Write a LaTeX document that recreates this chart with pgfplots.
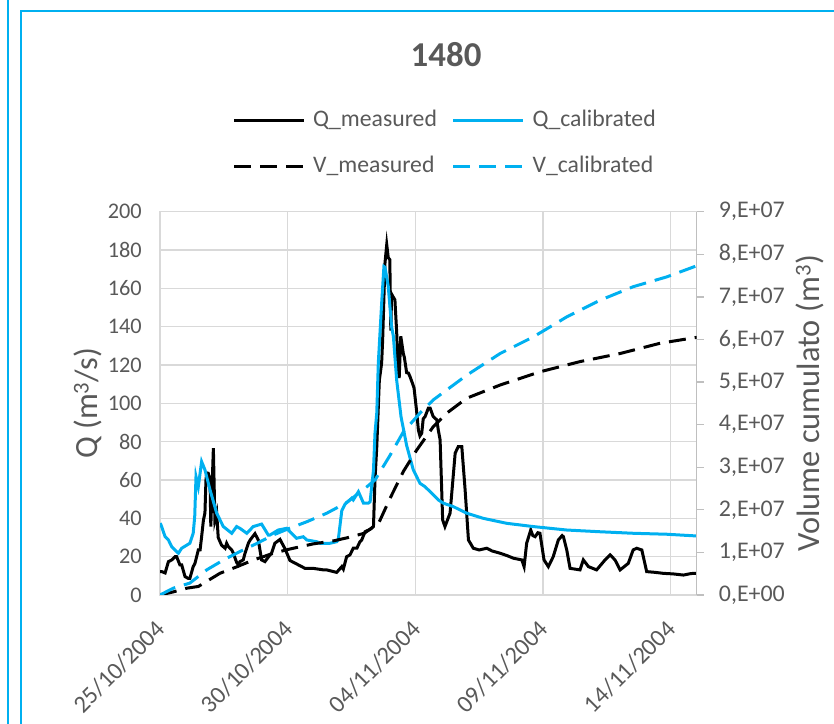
\documentclass[border=0pt]{standalone}
\usepackage{pgfplots}
\pgfplotsset{compat=1.18}
\usepackage{fontspec}
\setmainfont{Carlito}
\definecolor{cblue}{HTML}{00B0F0}
\definecolor{tgray}{HTML}{595959}
\definecolor{ggray}{HTML}{D9D9D9}
\definecolor{agray}{HTML}{BFBFBF}

\pgfplotstableread{
x y
0 12.2
0.07 12.2
0.2 11.5
0.33 17.4
0.46 18.3
0.59 20
0.65 20
0.78 15.7
0.85 15.7
0.98 9.6
1.1 8.7
1.17 8.7
1.3 14.8
1.37 16.5
1.5 23.5
1.57 23.5
1.63 30.4
1.7 39
1.76 42.8
1.8 60
1.83 63.7
1.89 63.5
1.96 60
1.99 35.7
2.09 76.6
2.15 39
2.22 42.8
2.28 30
2.41 26
2.55 24.4
2.61 27
2.68 25.2
2.81 23.5
2.87 21.9
3.0 17
3.07 15.7
3.13 17.4
3.26 18.3
3.33 21.8
3.46 27
3.53 28.7
3.72 32
3.85 28.7
3.98 18.3
4.11 17.4
4.31 21
4.37 21.8
4.5 27
4.7 29
4.9 24
5.09 18
5.42 15.7
5.68 13.9
6.0 13.9
6.4 13.1
6.53 13.1
6.92 11.8
7.12 14.8
7.18 13.5
7.31 20
7.44 20.9
7.57 24.4
7.71 24.4
7.83 27.8
7.9 28.7
8.03 33
8.23 34.3
8.36 35.7
8.42 60
8.49 77.4
8.59 112
8.68 121
8.72 133
8.81 173
8.88 182.8
8.94 176
9.0 175
9.04 138
9.07 157
9.12 155.8
9.2 154
9.27 137
9.33 114
9.37 114
9.43 135
9.53 126
9.57 124
9.66 116
9.73 115.8
9.79 114
9.9 110
9.95 108
10.05 96
10.12 86
10.18 83
10.25 84.4
10.31 92
10.38 93
10.51 97.5
10.58 97.5
10.7 93.1
10.84 91.4
10.9 86
10.97 81
11.07 39.2
11.16 35.7
11.36 42.7
11.56 74
11.68 77.4
11.82 77.4
11.95 54.8
12.08 28.7
12.27 24.4
12.5 23.5
12.8 24.4
13.0 23
13.32 21.8
13.6 20.5
13.84 19.2
14.17 18.3
14.26 14.8
14.36 27
14.52 33.9
14.6 31
14.69 30.4
14.8 32.5
14.88 32.2
15.04 18.3
15.21 14.8
15.4 20
15.6 28.7
15.75 31
15.8 30.4
15.93 23.5
16.06 13.9
16.45 13.1
16.58 18.3
16.78 14.8
17.1 13.1
17.43 18.3
17.63 20.9
17.82 18.3
18.02 13.1
18.34 16.5
18.53 23.5
18.67 24.4
18.87 23.5
19.06 12.2
19.4 11.8
19.71 11.3
20.1 11
20.5 10.4
20.8 11.2
21.02 11.3
}\Qmeas

\pgfplotstableread{
x y
0 37.4
0.04 36.6
0.2 30.4
0.33 28.7
0.46 25.2
0.65 22.6
0.72 21.8
0.85 24.4
1.17 27
1.3 32.2
1.36 41
1.41 61.8
1.5 56.5
1.63 69.6
1.76 65.3
1.96 54.8
2.22 42.7
2.48 35.7
2.81 32.2
3.0 35.7
3.13 34.8
3.4 32.2
3.65 35.7
3.98 37
4.24 31.3
4.31 31.3
4.63 33.9
4.96 34.8
5.09 33
5.35 29.6
5.61 30.4
5.75 28.7
6.14 27.8
6.27 27
6.66 27
6.92 27.8
6.98 28.7
7.12 44
7.25 47.5
7.51 50.5
7.57 49.6
7.77 53.9
7.97 47.9
8.16 47.9
8.23 48.7
8.29 56.5
8.36 65
8.42 84.4
8.49 95
8.55 121
8.68 152
8.77 171.4
8.81 171
8.94 161
9.07 140
9.14 135
9.27 112
9.44 93
9.66 78
9.92 65.3
10.18 58.3
10.38 56.5
10.64 53.1
10.9 49.6
11.1 47.9
11.49 46.1
12.01 42.7
12.66 40
13.58 37.4
14.62 35.7
15.93 33.9
17.23 33
18.54 32.2
19.85 31.7
21.02 30.8
}\Qcal

\pgfplotstableread{
x y
0 0
0.5 700000
1.05 1600000
1.5 2000000
2.02 3900000
2.35 5100000
3.0 6600000
3.65 8200000
4.44 9800000
5.09 10800000
6.0 12000000
6.79 12700000
7.38 13500000
8.0 14500000
8.55 16800000
8.62 17600000
9.01 22700000
9.53 29000000
10.05 34000000
10.7 39500000
11.23 42700000
12.01 46200000
13.32 49300000
14.88 52400000
16.45 54800000
18.02 56700000
19.58 59100000
21.02 60500000
}\Vmeas

\pgfplotstableread{
x y
0 0
0.52 1600000
1.17 2800000
1.83 5900000
2.48 8200000
3.13 10200000
3.79 12100000
4.44 14100000
5.09 15700000
5.75 17200000
6.53 19200000
7.31 21700000
8.1 25400000
8.42 27000000
9.01 32800000
9.53 38300000
10.18 42700000
10.7 45800000
12.01 51600000
13.32 56700000
14.62 60600000
15.93 65300000
17.23 69200000
18.54 72400000
19.85 74700000
21.02 77300000
}\Vcal

\begin{document}
\begin{tikzpicture}[x=1bp,y=1bp]
\useasboundingbox (0,0) rectangle (834,724);
\draw[cblue, line width=2.2bp] (8,-5) -- (8,730);
\draw[cblue, line width=2.2bp] (21,-5) -- (21,713) -- (840,713);

\begin{axis}[
  at={(160bp,129bp)}, anchor=south west,
  scale only axis, width=536.7bp, height=383.3bp,
  xmin=0, xmax=21.02, ymin=0, ymax=200,
  axis line style={draw=ggray, line width=1.3bp},
  grid=major, major grid style={draw=ggray, line width=1.3bp},
  xtick={0,5,10,15,20},
  xticklabels={25/10/2004,30/10/2004,04/11/2004,09/11/2004,14/11/2004},
  ytick={0,20,...,200},
  major tick length=0pt,
  tick label style={font=\fontsize{22.4}{26}\selectfont, text=tgray},
  /pgf/number format/assume math mode=true,
  yticklabel style={inner sep=0pt, xshift=-18bp},
  xticklabel style={yshift=-30bp, xshift=1bp, rotate=45, anchor=east, inner sep=0pt, font=\fontsize{24.5}{28}\selectfont},
  ylabel={Q (m\textsuperscript{3}/s)},
  every axis y label/.style={at={(axis description cs:-0.134,0.5)}, anchor=center, rotate=90, font=\fontsize{32.5}{36}\selectfont, text=tgray},
  title={1480},
  every axis title/.style={at={(axis description cs:0.533,1.409)}, anchor=center, font=\fontsize{35}{40}\selectfont\bfseries, text=tgray},
]
\addplot[black, line width=3bp] table {\Qmeas};
\addplot[cblue, line width=3bp] table {\Qcal};
\end{axis}

\begin{axis}[
  at={(160bp,129bp)}, anchor=south west,
  scale only axis, width=536.7bp, height=383.3bp,
  xmin=0, xmax=21.02, ymin=0, ymax=90000000,
  axis x line=none, axis y line*=right,
  y axis line style={draw=agray, line width=1.3bp},
  ytick={0,10000000,20000000,30000000,40000000,50000000,60000000,70000000,80000000,90000000},
  yticklabels={{0,E+00},{1,E+07},{2,E+07},{3,E+07},{4,E+07},{5,E+07},{6,E+07},{7,E+07},{8,E+07},{9,E+07}},
  scaled y ticks=false,
  ytick style={draw=agray, line width=1.3bp},
  major tick length=7bp, tick align=outside,
  tick label style={font=\fontsize{24}{28}\selectfont, text=tgray},
  yticklabel style={inner sep=0pt, anchor=west, xshift=15bp},
  ylabel={Volume cumulato (m\textsuperscript{3})},
  every axis y label/.style={at={(axis description cs:1.211,0.5)}, anchor=center, rotate=90, font=\fontsize{32.5}{36}\selectfont, text=tgray},
  legend columns=2,
  legend cell align=left,
  legend style={at={(axis description cs:0.530,1.178)}, anchor=center, draw=none, fill=none,
    font=\fontsize{23.8}{28}\selectfont, text=tgray, row sep=17bp,
    nodes={inner xsep=0.6bp, inner ysep=3.5bp, text height=17bp, text depth=5bp},
    /tikz/every even column/.append style={column sep=14.4bp},
    /tikz/every odd column/.append style={column sep=7bp}},
  legend image code/.code={\draw[#1] (0bp,0bp) -- (70bp,0bp);},
]
\addlegendimage{black, line width=3bp}
\addlegendentry{Q\_measured}
\addlegendimage{cblue, line width=3bp}
\addlegendentry{Q\_calibrated}
\addplot[black, line width=3bp, dash pattern=on 17bp off 9bp] table {\Vmeas};
\addlegendentry{V\_measured}
\addplot[cblue, line width=3bp, dash pattern=on 17bp off 9bp] table {\Vcal};
\addlegendentry{V\_calibrated}
\end{axis}
\end{tikzpicture}
\end{document}
